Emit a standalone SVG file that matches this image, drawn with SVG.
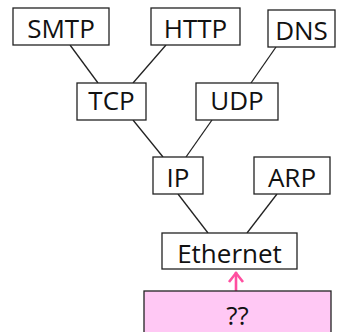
<svg xmlns="http://www.w3.org/2000/svg" width="344" height="332" viewBox="0 0 344 332">
<style>
.b{fill:#fff;stroke:#222;stroke-width:1.3}
.t{font-family:"Open Sans",sans-serif;font-size:26px;fill:#111;text-anchor:middle}
.c line{stroke:#222;stroke-width:1.3}
</style>
<rect width="344" height="332" fill="#fff"/>
<g class="c" id="connectors">
<line x1="70" y1="45" x2="98" y2="83"/>
<line x1="166" y1="45" x2="133" y2="83"/>
<line x1="276" y1="47" x2="251" y2="83"/>
<line x1="133" y1="120" x2="163" y2="157"/>
<line x1="212" y1="120" x2="186" y2="157"/>
<line x1="178" y1="194" x2="208" y2="233"/>
<line x1="277" y1="194" x2="247" y2="233"/>
<g id="arrow" fill="none" stroke="#FF4FA0" stroke-width="2.6">
<line x1="236" y1="291" x2="236" y2="272" style="stroke:#FF4FA0;stroke-width:2.6"/>
<polyline points="229,282 236,273 243,282"/>
</g>
</g>
<g id="smtp"><rect class="b" x="13" y="8" width="96" height="37"/><text class="t" x="61" y="38">SMTP</text></g>
<g id="http"><rect class="b" x="151" y="8" width="89" height="37"/><text class="t" x="195.5" y="38">HTTP</text></g>
<g id="dns"><rect class="b" x="268" y="10" width="67" height="37"/><text class="t" x="301.5" y="40">DNS</text></g>
<g id="tcp"><rect class="b" x="77" y="83" width="69" height="37"/><text class="t" x="111.5" y="110">TCP</text></g>
<g id="udp"><rect class="b" x="196" y="83" width="82" height="37"/><text class="t" x="237" y="110">UDP</text></g>
<g id="ip"><rect class="b" x="153" y="157" width="50" height="37"/><text class="t" x="178" y="187">IP</text></g>
<g id="arp"><rect class="b" x="254" y="157" width="76" height="37"/><text class="t" x="292" y="187">ARP</text></g>
<g id="ethernet"><rect class="b" x="162" y="233" width="135" height="36"/><text class="t" x="229.5" y="263">Ethernet</text></g>
<g id="unknown"><rect class="b" x="144" y="291" width="187" height="45" style="fill:#FFC8F4"/><text class="t" x="237.5" y="325">??</text></g>
</svg>
